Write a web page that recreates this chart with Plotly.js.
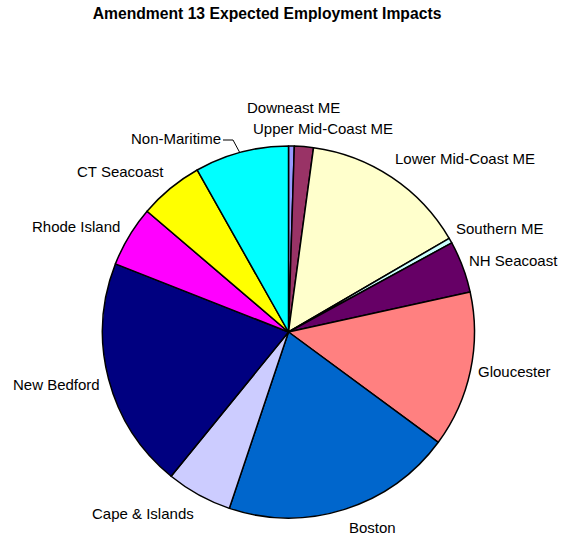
<!DOCTYPE html>
<html><head><meta charset="utf-8">
<script src="https://cdn.plot.ly/plotly-3.0.1.min.js"></script>
<style>html,body{margin:0;padding:0;background:#fff}#chart{width:562px;height:539px}</style>
</head><body><div id="chart"></div>
<script>
// Regions in clockwise order from 12 o'clock
const regions = ["Downeast ME","Upper Mid-Coast ME","Lower Mid-Coast ME","Southern ME","NH Seacoast","Gloucester","Boston","Cape & Islands","New Bedford","Rhode Island","CT Seacoast","Non-Maritime"];
// Share of expected employment impacts (percent)
const shares = [0.5, 1.65, 14.45, 0.45, 4.5, 13.55, 20.05, 5.72, 20.1, 5.28, 5.58, 8.17];
const colors = ["#9999FF","#993366","#FFFFCC","#CCFFFF","#660066","#FF8080","#0066CC","#CCCCFF","#000080","#FF00FF","#FFFF00","#00FFFF"];
// Label centre positions in pixels (layout only)
const labelPos = [[293,107],[323,128],[465,158],[500,229],[513,260],[514,371],[372,527],[143,513],[56,384],[76,226],[120,171],[176,139]];

const W = 562, H = 539;
const annotations = regions.map((r,i)=>({
  text: r, xref:'paper', yref:'paper',
  x: labelPos[i][0]/W, y: 1 - labelPos[i][1]/H,
  xanchor:'center', yanchor:'middle', showarrow:false,
  font:{family:'Liberation Sans, Arial, sans-serif', size:15, color:'#000'}
}));

const data = [{
  type:'pie', labels: regions, values: shares, sort:false, direction:'clockwise', rotation:0,
  marker:{colors: colors, line:{color:'#000', width:1.5}},
  textinfo:'none', hoverinfo:'label+percent', showlegend:false,
  domain:{x:[102.5/W, 474.5/W], y:[21/H, 393/H]}
}];

const layout = {
  width:W, height:H, margin:{l:0,r:0,t:0,b:0},
  paper_bgcolor:'#fff', plot_bgcolor:'#fff',
  title:{text:'<b>Amendment 13 Expected Employment Impacts</b>', x:267/W, xanchor:'center', y:1-14/H, yanchor:'middle',
    font:{family:'Liberation Sans, Arial, sans-serif', size:15.7, color:'#000'}},
  annotations: annotations,
  shapes:[{type:'path', xref:'paper', yref:'paper',
    path:`M ${223/W} ${1-140/H} L ${233/W} ${1-140/H} L ${240/W} ${1-153/H}`,
    line:{color:'#000', width:1}}]
};
Plotly.newPlot('chart', data, layout, {displayModeBar:false, staticPlot:true});
</script></body></html>
